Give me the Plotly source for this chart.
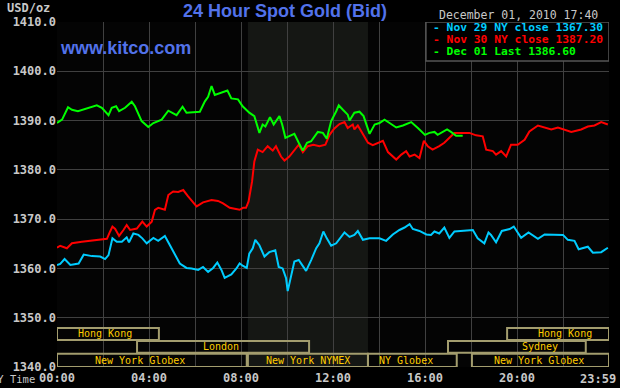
import plotly.graph_objects as go

# ---- data (hours since midnight NY time, USD/oz) ----
nov29_h = [0, 0.14, 0.33, 0.58, 0.94, 1.16, 1.52, 1.88, 2.09, 2.24, 2.41, 2.60, 2.82, 3.03, 3.13, 3.32, 3.54, 3.71, 3.90, 4.19, 4.40, 4.69, 4.91, 5.13, 5.34, 5.63, 5.85, 6.14, 6.35, 6.57, 6.79, 6.97, 7.15, 7.29, 7.58, 7.80, 7.94, 8.09,
           8.25, 8.36, 8.51, 8.62, 8.80, 9.02, 9.23, 9.49, 9.64, 9.81, 9.96, 10.03, 10.18, 10.32, 10.51, 10.69, 10.83, 11.05, 11.27, 11.41, 11.58, 11.73, 11.92, 12.14, 12.35, 12.50, 12.72, 12.93, 13.08, 13.30, 13.59, 14.02, 14.31, 14.60, 14.89, 15.11, 15.33, 15.47, 15.76, 16.06,
           16.26, 16.41, 16.62, 16.84, 17.06, 17.28, 18.08, 18.29, 18.58, 18.76, 18.87, 19.09, 19.34, 19.68, 19.86, 20.18, 20.50, 20.91, 21.20, 21.78, 22.0, 22.21, 22.50, 22.68, 23.08, 23.30, 23.66, 23.95]
nov29_v = [1360.7, 1360.9, 1361.9, 1360.7, 1361.0, 1362.8, 1362.5, 1362.4, 1361.9, 1362.7, 1366.1, 1365.4, 1365.4, 1366.3, 1365.3, 1367.1, 1366.8, 1366.1, 1365.1, 1366.2, 1365.6, 1366.6, 1364.7, 1362.7, 1361.0, 1360.1, 1360.0, 1359.7, 1360.3, 1359.3, 1360.1, 1361.2, 1359.7, 1358.1, 1358.8, 1360.0, 1361.0, 1360.5,
           1360.1, 1363.0, 1364.1, 1365.8, 1364.7, 1362.4, 1363.3, 1363.7, 1360.3, 1360.0, 1358.0, 1355.4, 1358.6, 1361.4, 1361.7, 1360.3, 1359.5, 1361.7, 1364.1, 1365.1, 1367.5, 1366.1, 1364.6, 1365.1, 1366.4, 1367.3, 1366.4, 1366.8, 1367.6, 1365.8, 1366.1, 1366.1, 1365.6, 1366.9, 1367.8, 1368.3, 1369.0, 1368.0, 1367.6, 1366.9,
           1366.8, 1367.5, 1367.1, 1368.3, 1366.2, 1367.5, 1367.8, 1366.1, 1365.1, 1367.3, 1366.8, 1365.3, 1367.6, 1368.0, 1368.5, 1366.2, 1367.3, 1366.0, 1366.9, 1366.9, 1366.8, 1365.8, 1365.6, 1363.9, 1364.4, 1363.2, 1363.3, 1364.2]

nov30_h = [0, 0.14, 0.43, 0.65, 1.08, 1.52, 1.95, 2.17, 2.31, 2.41, 2.53, 2.70, 2.89, 3.03, 3.18, 3.47, 3.71, 3.90, 4.12, 4.26, 4.40, 4.69, 4.84, 5.05, 5.27, 5.49, 5.70, 6.07, 6.35, 6.72, 7.0, 7.22, 7.51, 7.94, 8.09,
           8.22, 8.33, 8.48, 8.58, 8.73, 8.94, 9.16, 9.38, 9.52, 9.74, 9.89, 10.10, 10.32, 10.51, 10.69, 10.90, 11.15, 11.41, 11.67, 11.85, 12.06, 12.28, 12.50, 12.64, 12.86, 12.93, 13.08, 13.30, 13.52, 13.73, 13.95, 14.17, 14.39, 14.60, 14.75, 14.97, 15.18, 15.33, 15.55, 15.76, 15.95, 16.12,
           16.33, 16.62, 16.84, 17.13, 17.28, 17.93, 18.22, 18.51, 18.66, 18.95, 19.09, 19.31, 19.53, 19.74, 20.03, 20.33, 20.54, 20.91, 21.20, 21.49, 21.78, 22.07, 22.36, 22.79, 23.08, 23.37, 23.66, 23.95]
nov30_v = [1364.2, 1364.6, 1364.1, 1365.1, 1365.4, 1365.6, 1365.8, 1366.0, 1367.5, 1368.5, 1368.0, 1366.6, 1367.8, 1368.8, 1367.8, 1368.1, 1369.5, 1368.5, 1369.5, 1371.9, 1372.3, 1371.9, 1374.9, 1375.6, 1375.5, 1375.9, 1374.6, 1372.6, 1373.4, 1373.9, 1373.7, 1373.2, 1372.3, 1371.9, 1372.3,
           1372.3, 1373.6, 1377.6, 1381.7, 1384.1, 1383.6, 1384.8, 1383.9, 1384.8, 1382.7, 1381.9, 1382.7, 1383.9, 1385.1, 1383.6, 1384.8, 1385.1, 1384.8, 1385.1, 1387.1, 1388.4, 1389.3, 1389.7, 1388.5, 1389.2, 1388.2, 1389.0, 1387.1, 1385.5, 1385.0, 1385.5, 1385.9, 1383.6, 1382.7, 1382.1, 1383.1, 1383.8, 1382.7, 1383.1, 1382.4, 1385.9, 1384.8,
           1384.1, 1384.8, 1385.5, 1386.8, 1387.5, 1387.5, 1387.0, 1386.8, 1384.1, 1383.8, 1383.1, 1383.8, 1382.7, 1385.1, 1385.1, 1386.1, 1387.8, 1389.0, 1388.6, 1388.2, 1388.6, 1388.2, 1387.7, 1388.2, 1388.8, 1389.0, 1389.7, 1389.2]

dec01_h = [0, 0.22, 0.48, 0.65, 0.91, 1.23, 1.73, 1.95, 2.24, 2.38, 2.57, 2.70, 2.96, 3.25, 3.39, 3.68, 3.97, 4.19, 4.55, 4.84, 5.20, 5.46, 5.63, 6.21, 6.43, 6.57, 6.72, 6.86, 7.15, 7.41, 7.58, 7.87,
           8.07, 8.36, 8.58, 8.80, 8.94, 9.06, 9.26, 9.42, 9.67, 9.79, 9.93, 10.10, 10.32, 10.51, 10.69, 10.87, 11.05, 11.34, 11.56, 11.73, 11.92, 12.14, 12.25, 12.43, 12.64, 12.72, 12.93, 13.15, 13.33, 13.59, 13.81, 14.02, 14.24, 14.46, 14.75, 15.04, 15.40, 15.69, 16.0,
           16.19, 16.41, 16.55, 16.77, 16.96, 17.13, 17.35, 17.64]
dec01_v = [1389.5, 1390.2, 1392.7, 1392.2, 1391.9, 1392.4, 1393.1, 1392.6, 1391.1, 1392.6, 1392.9, 1391.9, 1392.6, 1393.8, 1392.9, 1389.9, 1388.7, 1389.5, 1390.2, 1392.0, 1391.1, 1392.8, 1391.6, 1391.8, 1393.9, 1394.8, 1397.0, 1395.2, 1395.6, 1396.1, 1394.5, 1394.3,
           1392.9, 1391.6, 1390.9, 1387.5, 1389.2, 1388.8, 1390.7, 1389.2, 1390.9, 1389.2, 1386.5, 1386.8, 1387.3, 1385.5, 1383.9, 1385.5, 1385.8, 1387.7, 1387.5, 1386.3, 1389.9, 1391.9, 1393.1, 1392.2, 1391.2, 1390.0, 1391.6, 1391.8, 1390.9, 1387.3, 1389.2, 1389.5, 1390.2, 1389.5, 1388.6, 1389.0, 1389.7, 1388.5, 1387.1,
           1387.5, 1387.7, 1387.1, 1387.7, 1388.2, 1387.7, 1386.9, 1386.9]

legend_texts = ["- Nov 29 NY close 1367.30", "- Nov 30 NY close 1387.20", "- Dec 01 Last 1386.60"]
tick_hours = list(range(0, 25, 2))
tick_labels = ["00:00", "", "04:00", "", "08:00", "", "12:00", "", "16:00", "", "20:00", "", "23:59"]

# sessions: (label, start hour, end hour, row, label centre hour)
sessions = [
    ("Hong Kong", 0.0, 4.43, 1, 2.09),
    ("Hong Kong", 19.57, 24.0, 1, 22.07),
    ("London", 3.48, 10.96, 2, 7.13),
    ("Sydney", 17.0, 22.99, 2, 20.98),
    ("New York Globex", 0.0, 8.25, 3, 3.6),
    ("New York NYMEX", 8.3, 13.52, 3, 10.9),
    ("NY Globex", 13.52, 17.38, 3, 15.17),
    ("New York Globex", 18.04, 24.0, 3, 20.96),
]
row_y = {1: (1345.5, 1347.9), 2: (1342.9, 1345.3), 3: (1340.0, 1342.7)}
nymex = (8.3, 13.52)

CYAN, RED, GREEN = "#00ccff", "#ff0000", "#00ff00"
GRAY = "#c8c8c8"
BLUE = "#5272ea"
MONO = "DejaVu Sans Mono"

fig = go.Figure()
fig.add_trace(go.Scatter(x=nov29_h, y=nov29_v, mode="lines", line=dict(color=CYAN, width=2)))
fig.add_trace(go.Scatter(x=nov30_h, y=nov30_v, mode="lines", line=dict(color=RED, width=2)))
fig.add_trace(go.Scatter(x=dec01_h, y=dec01_v, mode="lines", line=dict(color=GREEN, width=2)))

shapes = [dict(type="rect", xref="x", yref="y", x0=nymex[0], x1=nymex[1], y0=1340, y1=1410,
               fillcolor="#151714", line=dict(width=0), layer="below")]
annotations = []
for label, s, e, row, c in sessions:
    y0, y1 = row_y[row]
    shapes.append(dict(type="rect", xref="x", yref="y", x0=s, x1=e, y0=y0, y1=y1,
                       line=dict(color="#a39d6e", width=2), fillcolor="rgba(0,0,0,0)", layer="between"))
    annotations.append(dict(x=c, y=(y0 + y1) / 2, xref="x", yref="y", text=label, showarrow=False,
                            font=dict(family=MONO, size=10, color="#ffcc00"), xanchor="center", yanchor="middle"))

# legend box
shapes.append(dict(type="rect", xref="x", yref="y", x0=16.04, x1=24, y0=1402.1, y1=1410,
                   fillcolor="#000000", line=dict(color="#555555", width=1.5), layer="above"))
for i, (t, col) in enumerate(zip(legend_texts, [CYAN, RED, GREEN])):
    annotations.append(dict(x=0.677, y=0.9855 - i * 0.0348, xref="paper", yref="paper", text="<b>" + t + "</b>",
                            showarrow=False, xanchor="left", yanchor="middle",
                            font=dict(family=MONO, size=11.3, color=col)))

# last x tick label sits just inside the right edge (drawn as an annotation)
annotations.append(dict(x=0.9803, y=-0.036, xref="paper", yref="paper", text="<b>" + tick_labels[-1] + "</b>",
                        showarrow=False, xanchor="center", yanchor="middle",
                        font=dict(family=MONO, size=12, color=GRAY)))

annotations += [
    dict(x=-0.009, y=1.0406, xref="paper", yref="paper", text="<b>USD/oz</b>", showarrow=False,
         xanchor="right", yanchor="middle", font=dict(family=MONO, size=12, color=GRAY)),
    dict(x=0.413, y=1.032, xref="paper", yref="paper", text="<b>24 Hour Spot Gold (Bid)</b>", showarrow=False,
         xanchor="center", yanchor="middle", font=dict(family="Liberation Sans", size=18, color=BLUE)),
    dict(x=0.002, y=0.924, xref="paper", yref="paper", text="<b>www.kitco.com</b>", showarrow=False,
         xanchor="left", yanchor="middle", font=dict(family="Liberation Sans", size=18, color=BLUE)),
    dict(x=0.688, y=1.020, xref="paper", yref="paper", text="December 01, 2010 17:40", showarrow=False,
         xanchor="left", yanchor="middle", font=dict(family=MONO, size=11.5, color=GRAY)),
    dict(x=-0.036, y=-0.036, xref="paper", yref="paper", text="NY Time", showarrow=False,
         xanchor="right", yanchor="middle", font=dict(family=MONO, size=10.5, color=GRAY)),
]

fig.update_layout(
    width=620, height=388,
    margin=dict(l=57, r=11, t=22, b=21, autoexpand=False),
    paper_bgcolor="#000000", plot_bgcolor="#040404",
    showlegend=False,
    shapes=shapes, annotations=annotations,
    xaxis=dict(range=[0, 24], tickvals=tick_hours, ticktext=tick_labels[:-1] + [""], showgrid=True,
               gridcolor="#404040", gridwidth=1, zeroline=False, showline=False, ticks="",
               ticklabelstandoff=2,
               tickfont=dict(family=MONO, size=12, color=GRAY, weight="bold")),
    yaxis=dict(range=[1340, 1410], dtick=10, tick0=1340, tickformat=".1f", showgrid=True,
               gridcolor="#404040", gridwidth=1, zeroline=False, showline=False, ticks="",
               tickfont=dict(family=MONO, size=12, color=GRAY, weight="bold")),
)
fig.write_html("out.html", config={"displayModeBar": False},
               post_script="document.body.style.margin='0';document.body.style.background='#000';")
